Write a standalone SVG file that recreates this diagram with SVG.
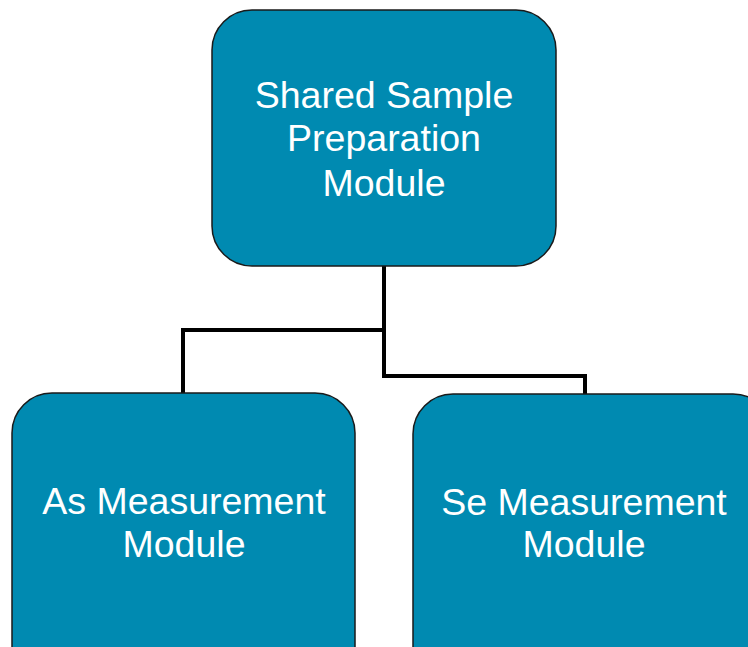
<svg xmlns="http://www.w3.org/2000/svg" width="748" height="647" viewBox="0 0 748 647">
<style>
.box{fill:#008AB1;stroke:#1a1a1a;stroke-width:1.5}
.lbl{font-family:"Liberation Sans",Arial,sans-serif;font-size:37.5px;fill:#ffffff;text-anchor:middle}
.conn{fill:none;stroke:#000;stroke-width:4}
</style>
<rect width="748" height="647" fill="#fff"/>
<g id="connectors">
<polyline class="conn" points="384,266 384,330 183,330 183,393"/>
<polyline class="conn" points="384,266 384,376 585,376 585,394"/>
</g>
<g id="node-shared">
<rect class="box" x="212" y="10" width="344" height="256" rx="40" ry="40"/>
<text class="lbl" x="384" y="108">Shared Sample</text>
<text class="lbl" x="384" y="151">Preparation</text>
<text class="lbl" x="384" y="196">Module</text>
</g>
<g id="node-as">
<rect class="box" x="12" y="393" width="343" height="300" rx="40" ry="40"/>
<text class="lbl" x="184" y="514">As Measurement</text>
<text class="lbl" x="184" y="557">Module</text>
</g>
<g id="node-se">
<rect class="box" x="413" y="394" width="360" height="300" rx="40" ry="40"/>
<text class="lbl" x="584" y="515">Se Measurement</text>
<text class="lbl" x="584" y="557">Module</text>
</g>
</svg>
